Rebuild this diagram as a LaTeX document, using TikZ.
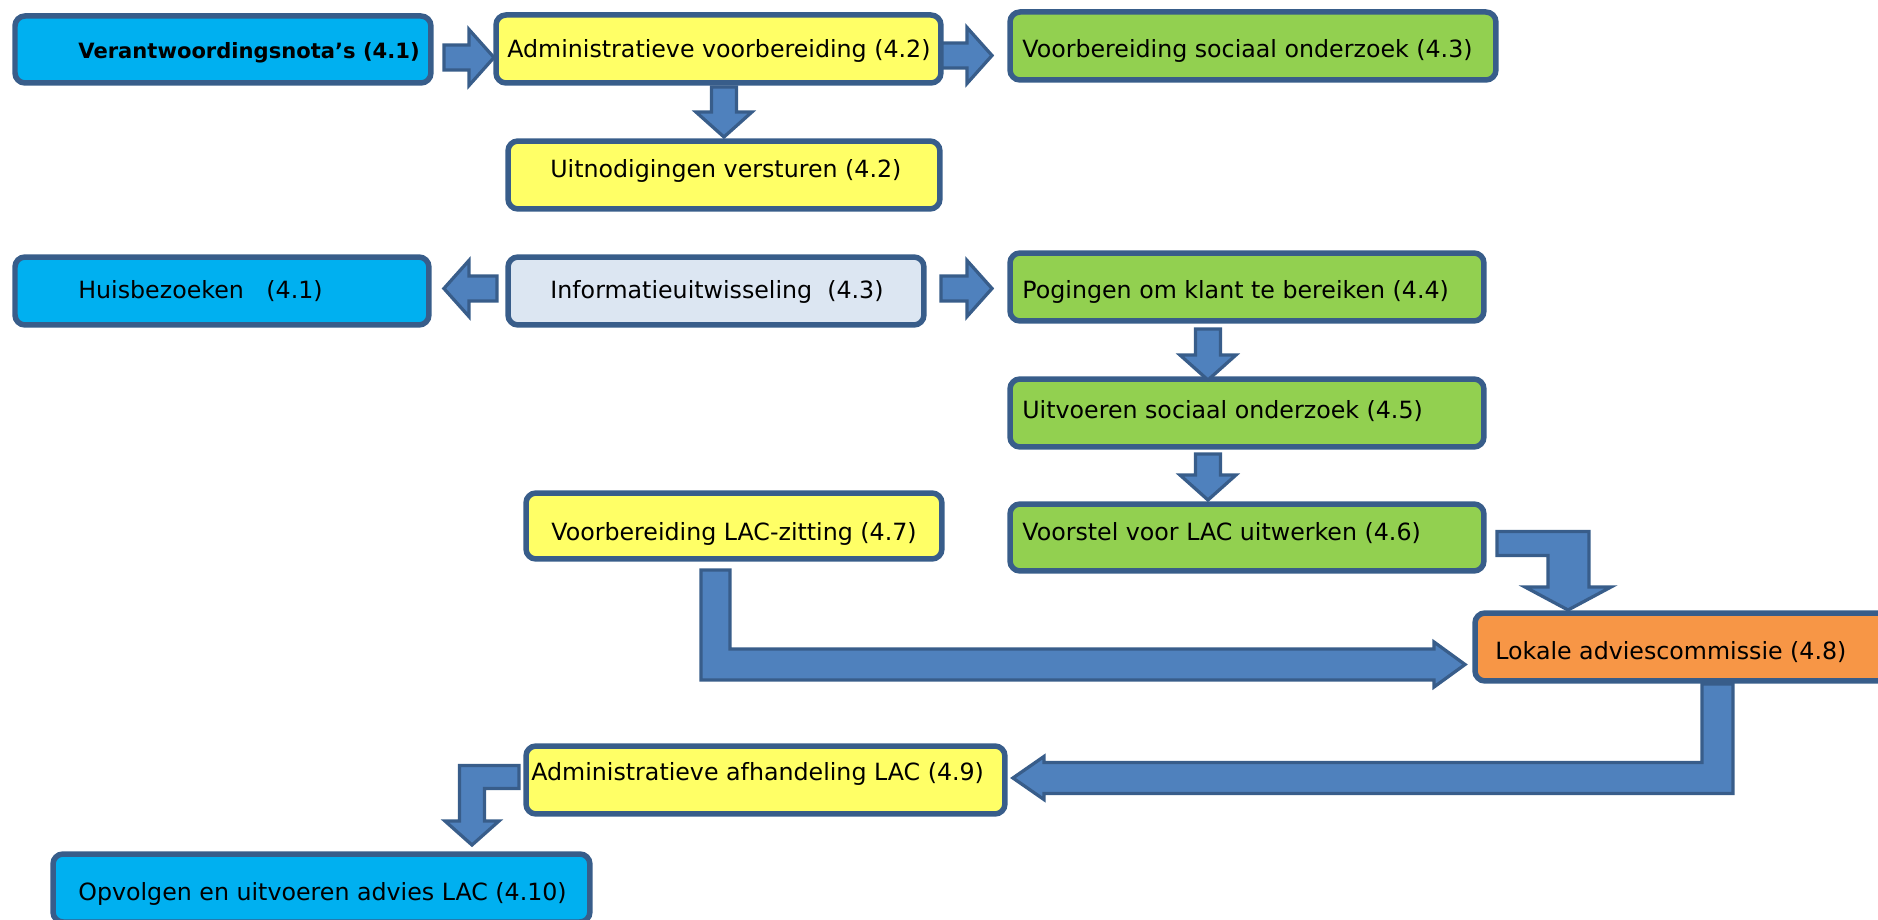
\documentclass[tikz,border=0pt]{standalone}
\usepackage{fontspec}
\setmainfont{DejaVu Sans}
\usetikzlibrary{calc}
\definecolor{boxEdge}{HTML}{385D8A}
\definecolor{flowFill}{HTML}{4F81BD}
\definecolor{flowEdge}{HTML}{385D8A}
\definecolor{fillCyan}{HTML}{00B0F0}
\definecolor{fillYellow}{HTML}{FFFF66}
\definecolor{fillGreen}{HTML}{92D050}
\definecolor{fillMist}{HTML}{DCE6F2}
\definecolor{fillOrange}{HTML}{F79646}
\tikzset{
  stepbox/.style={rectangle, rounded corners=0.2cm, draw=boxEdge,
    line width=0.11cm, outer sep=0pt, inner sep=0pt,
    anchor=north west, minimum height=1.36cm},
  steplabel/.style={font=\fontsize{13.5}{16}\selectfont, text=black,
    inner sep=0pt, anchor=base west},
  flowarrow/.style={fill=flowFill, draw=flowEdge, line width=0.065cm,
    line join=miter},
}
% straight block arrow from tail point to tip point
\newcommand{\flowstraight}[2]{%
  \coordinate (flowtail) at (#1);%
  \coordinate (flowtip) at (#2);%
  \coordinate (flowneck) at ($(flowtip)!0.5cm!(flowtail)$);%
  \draw[flowarrow] ($(flowtail)!0.25cm!90:(flowtip)$)
    -- ($(flowneck)!0.25cm!90:(flowtip)$)
    -- ($(flowneck)!0.56cm!90:(flowtip)$)
    -- (flowtip)
    -- ($(flowneck)!0.56cm!-90:(flowtip)$)
    -- ($(flowneck)!0.25cm!-90:(flowtip)$)
    -- ($(flowtail)!0.25cm!-90:(flowtip)$) -- cycle;%
}

\begin{document}
\begin{tikzpicture}[x=0.02cm,y=-0.02cm]
  \path[use as bounding box] (0,0) rectangle (1878,919);
  \clip (0,0) rectangle (1878,919);

  % steps
  \node[stepbox,fill=fillCyan,minimum width=8.32cm,minimum height=1.34cm]
    (verant) at (15,16) {};
  \node[stepbox,fill=fillYellow,minimum width=8.90cm] (admvoor) at (496,15) {};
  \node[stepbox,fill=fillGreen,minimum width=9.72cm] (voorsoc) at (1010,12) {};
  \node[stepbox,fill=fillYellow,minimum width=8.64cm] (uitnod) at (508,141) {};
  \node[stepbox,fill=fillCyan,minimum width=8.28cm] (huisbez) at (15,257) {};
  \node[stepbox,fill=fillMist,minimum width=8.32cm] (infouit) at (508,257) {};
  \node[stepbox,fill=fillGreen,minimum width=9.48cm] (poging) at (1010,253) {};
  \node[stepbox,fill=fillGreen,minimum width=9.48cm] (uitvsoc) at (1010,379) {};
  \node[stepbox,fill=fillYellow,minimum width=8.32cm,minimum height=1.32cm]
    (voorlac) at (526,493) {};
  \node[stepbox,fill=fillGreen,minimum width=9.48cm,minimum height=1.34cm]
    (voorstel) at (1010,504) {};
  \node[stepbox,fill=fillOrange,minimum width=8.80cm] (lac) at (1475,613) {};
  \node[stepbox,fill=fillYellow,minimum width=9.58cm] (admafh) at (526,746) {};
  \node[stepbox,fill=fillCyan,minimum width=10.74cm] (opvolg) at (53,854) {};

  % straight flows
  \flowstraight{$(verant.east)+(13,8)$}{$(admvoor.west)+(-2,8.5)$}
  \flowstraight{$(admvoor.east)+(1,6.5)$}{$(voorsoc.west)+(-18,9.5)$}
  \flowstraight{$(admvoor.south)+(5.5,4)$}{$(uitnod.north)+(0,-4)$}
  \flowstraight{$(infouit.west)+(-11,-2.5)$}{$(huisbez.east)+(15,-2.5)$}
  \flowstraight{$(infouit.east)+(17,-2.5)$}{$(poging.west)+(-18,1.5)$}
  \flowstraight{$(poging.south)+(-39,8)$}{$(uitvsoc.north)+(-39,1)$}
  \flowstraight{$(uitvsoc.south)+(-39,7)$}{$(voorstel.north)+(-39,-4)$}

  % bent flows
  \coordinate (jkT) at ($(voorstel.east)+(13,6)$);
  \coordinate (jkP) at ($(lac.north west)+(93,-3)$);
  \draw[flowarrow] ($(jkT)+(0,-12)$) -- ($(jkP|-jkT)+(21,-12)$)
    -- ($(jkP)+(21,-23)$) -- ($(jkP)+(43,-23)$) -- (jkP)
    -- ($(jkP)+(-43,-23)$) -- ($(jkP)+(-20,-23)$)
    -- ($(jkP|-jkT)+(-20,12)$) -- ($(jkT)+(0,12)$) -- cycle;

  \coordinate (ikT) at ($(voorlac.south)+(-18.5,11)$);
  \coordinate (ikP) at ($(lac.west)+(-10,17.5)$);
  \draw[flowarrow] ($(ikT)+(-14.5,0)$) -- ($(ikT|-ikP)+(-14.5,15.5)$)
    -- ($(ikP)+(-31,15.5)$) -- ($(ikP)+(-31,22.5)$) -- (ikP)
    -- ($(ikP)+(-31,-22.5)$) -- ($(ikP)+(-31,-15.5)$)
    -- ($(ikT|-ikP)+(14.5,-15.5)$) -- ($(ikT)+(14.5,0)$) -- cycle;

  \coordinate (klT) at ($(lac.south west)+(242.5,3)$);
  \coordinate (klP) at ($(admafh.east)+(8,-2)$);
  \draw[flowarrow] ($(klT)+(15.5,0)$) -- ($(klT|-klP)+(15.5,15.5)$)
    -- ($(klP)+(31,15.5)$) -- ($(klP)+(31,21.5)$) -- (klP)
    -- ($(klP)+(31,-21.5)$) -- ($(klP)+(31,-15.5)$)
    -- ($(klT|-klP)+(-15.5,-15.5)$) -- ($(klT)+(-15.5,0)$) -- cycle;

  \coordinate (loT) at ($(admafh.west)+(-7,-3)$);
  \coordinate (loP) at ($(opvolg.north west)+(419,-9)$);
  \draw[flowarrow] ($(loT)+(0,-11.5)$) -- ($(loP|-loT)+(-12.5,-11.5)$)
    -- ($(loP)+(-12.5,-24)$) -- ($(loP)+(-27,-24)$) -- (loP)
    -- ($(loP)+(27,-24)$) -- ($(loP)+(12.5,-24)$)
    -- ($(loP|-loT)+(12.5,11.5)$) -- ($(loT)+(0,11.5)$) -- cycle;

  % labels
  \node[steplabel,font=\fontsize{12}{14}\selectfont\bfseries]
    (verant-t) at (78,59) {Verantwoordingsnota’s (4.1)};
  \node[steplabel] (admvoor-t) at (507,58) {Administratieve voorbereiding (4.2)};
  \node[steplabel] (voorsoc-t) at (1022,58) {Voorbereiding sociaal onderzoek (4.3)};
  \node[steplabel] (uitnod-t) at (550,177) {Uitnodigingen versturen (4.2)};
  \node[steplabel] (huisbez-t) at (78,298) {Huisbezoeken~~~(4.1)};
  \node[steplabel] (infouit-t) at (550,298) {Informatieuitwisseling~~(4.3)};
  \node[steplabel] (poging-t) at (1022,298) {Pogingen om klant te bereiken (4.4)};
  \node[steplabel] (uitvsoc-t) at (1022,418) {Uitvoeren sociaal onderzoek (4.5)};
  \node[steplabel] (voorlac-t) at (551,540) {Voorbereiding LAC-zitting (4.7)};
  \node[steplabel] (voorstel-t) at (1022,540) {Voorstel voor LAC uitwerken (4.6)};
  \node[steplabel] (lac-t) at (1495,659) {Lokale adviescommissie (4.8)};
  \node[steplabel] (admafh-t) at (531,780) {Administratieve afhandeling LAC (4.9)};
  \node[steplabel] (opvolg-t) at (78,900) {Opvolgen en uitvoeren advies LAC (4.10)};
\end{tikzpicture}
\end{document}
